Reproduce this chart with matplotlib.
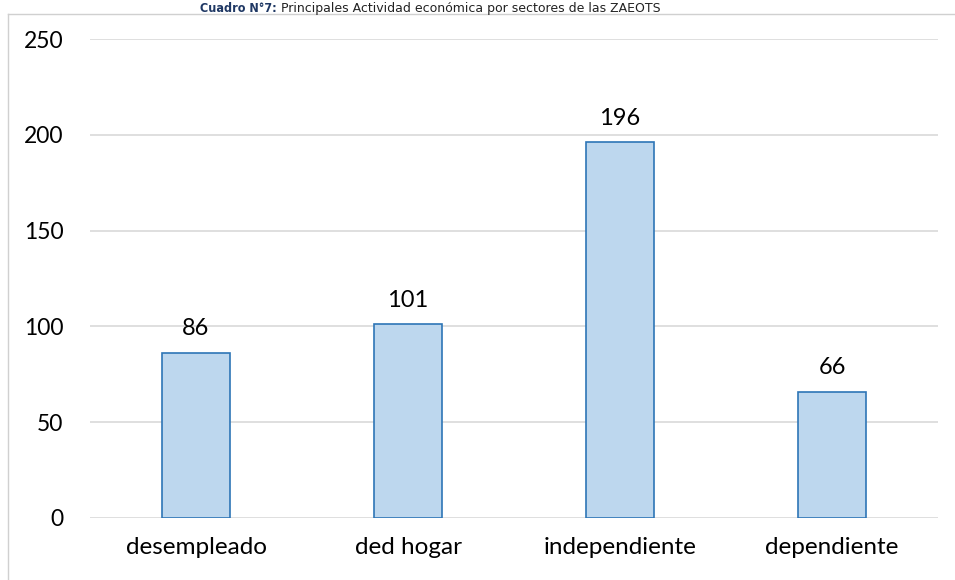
import matplotlib.pyplot as plt
from matplotlib.lines import Line2D

categorias = ["desempleado", "ded hogar", "independiente", "dependiente"]
valores = [86, 101, 196, 66]
y_ticks = [0, 50, 100, 150, 200, 250]

W, H = 955, 580
fig = plt.figure(figsize=(W / 100, H / 100), dpi=100)
ax = fig.add_axes([90 / W, 1 - 518 / H, 848 / W, 479 / H])

font = ["Lato", "DejaVu Sans"]

x = range(len(categorias))
bars = ax.bar(x, valores, width=0.32, color="#BDD7EE", edgecolor="#2E75B6",
              linewidth=1.2, zorder=3)

for b, v in zip(bars, valores):
    ax.annotate(str(v), (b.get_x() + b.get_width() / 2, v), xytext=(0, 10),
                textcoords="offset points", ha="center", va="bottom",
                fontsize=17, family=font)

ax.set_xlim(-0.5, len(categorias) - 0.5)
ax.set_ylim(0, 250)
ax.set_yticks(y_ticks)
ax.set_yticklabels([str(t) for t in y_ticks], family=font, fontsize=16.5)
ax.set_xticks(list(x))
ax.set_xticklabels(categorias, family=font, fontsize=17.5)
ax.tick_params(axis="y", length=0, pad=19)
ax.tick_params(axis="x", length=0, pad=14)
ax.grid(axis="y", color="#D9D9D9", linewidth=1.2, zorder=0)
for s in ax.spines.values():
    s.set_visible(False)

# chart frame: top and left edges
top = 1 - 14 / H
fig.add_artist(Line2D([8 / W, 1], [top, top], color="#D0D0D0", lw=1))
fig.add_artist(Line2D([8 / W, 8 / W], [0, top], color="#D0D0D0", lw=1))

# title above the frame line, two runs (bold label + plain text)
t1 = fig.text(200 / W, 1 - 12 / H, "Cuadro N°7: ", fontsize=9, fontweight="bold",
              color="#1F3864", family="DejaVu Sans", fontstretch="condensed",
              va="baseline")
fig.canvas.draw()
bb = t1.get_window_extent()
fig.text(bb.x1 / W, 1 - 12 / H,
         "Principales Actividad económica por sectores de las ZAEOTS",
         fontsize=9, color="#222222", family="DejaVu Sans", va="baseline")

fig.savefig("out.png", dpi=100)
